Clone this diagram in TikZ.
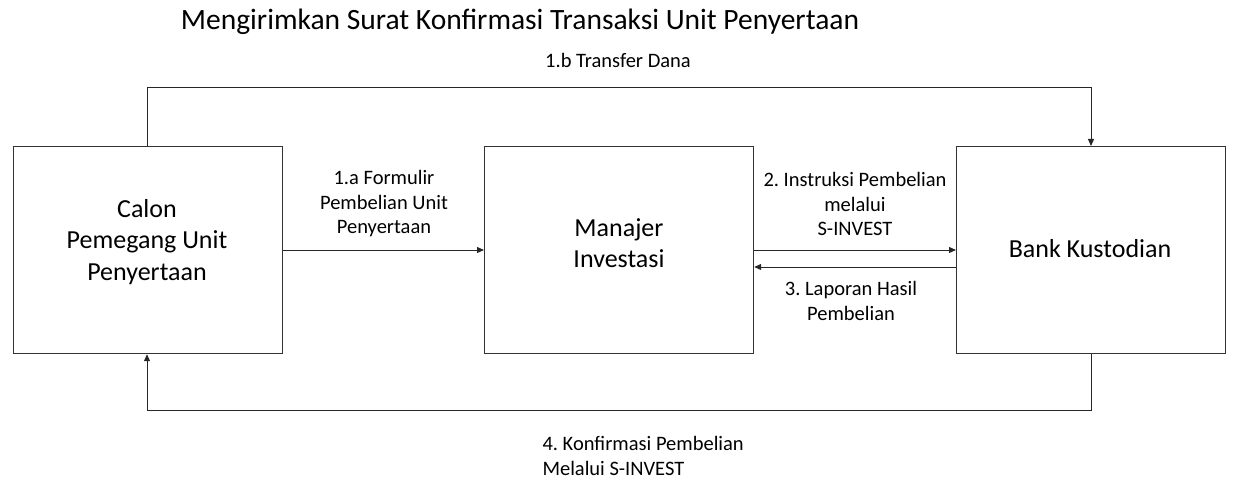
\documentclass[tikz,border=0pt]{standalone}
\usepackage{fontspec}
\setmainfont{Carlito}
\usetikzlibrary{arrows.meta}
\frenchspacing
\begin{document}
\begin{tikzpicture}[x=1pt,y=-1pt,
  box/.style={draw=black!80,line width=1.2pt,minimum width=269pt,minimum height=207pt,anchor=north west,inner sep=0pt},
  boxtext/.style={font=\fontsize{26}{31.5}\selectfont,align=center},
  lbl/.style={font=\fontsize{20.5}{24.5}\selectfont,align=center},
  conn/.style={draw=black!85,line width=1pt,-{Triangle[length=7pt,width=6pt]}}]
\useasboundingbox (0,0) rectangle (1234,484);
\node[box] (calon) at (13,146) {};
\node[box] (mi) at (484,146) {};
\node[box] (bank) at (956,146) {};
\node[boxtext] at (147,242) {Calon\\Pemegang Unit\\Penyertaan};
\node[boxtext] at (619,243) {Manajer\\Investasi};
\node[boxtext] at (1090,249) {Bank Kustodian};
\node[font=\fontsize{29.5}{34}\selectfont] (title) at (520,22) {Mengirimkan Surat Konfirmasi Transaksi Unit Penyertaan};
\node[lbl] (l1b) at (618,60) {1.b Transfer Dana};
\node[lbl] (l1a) at (384,204) {1.a Formulir\\Pembelian Unit\\Penyertaan};
\node[lbl] (l2) at (855,204) {2. Instruksi Pembelian\\melalui\\S-INVEST};
\node[lbl] (l3) at (851,301) {3. Laporan Hasil\\Pembelian};
\node[lbl,align=left,anchor=west] (l4) at (539,456) {4. Konfirmasi Pembelian\\Melalui S-INVEST};
\coordinate (tl) at (147,88);
\coordinate (tr) at (1091,88);
\coordinate (br) at (1091,410);
\coordinate (bl) at (147,410);
\draw[conn] (calon.north west -| tl) -- (tl) -- (tr) -- (bank.north west -| tr);
\draw[conn] (bank.south west -| br) -- (br) -- (bl) -- (calon.south west -| bl);
\draw[conn] (calon.east |- 0,250) -- (mi.west |- 0,250);
\draw[conn] (mi.east |- 0,250) -- (bank.west |- 0,250);
\draw[conn] (bank.west |- 0,267) -- (mi.east |- 0,267);
\end{tikzpicture}
\end{document}
